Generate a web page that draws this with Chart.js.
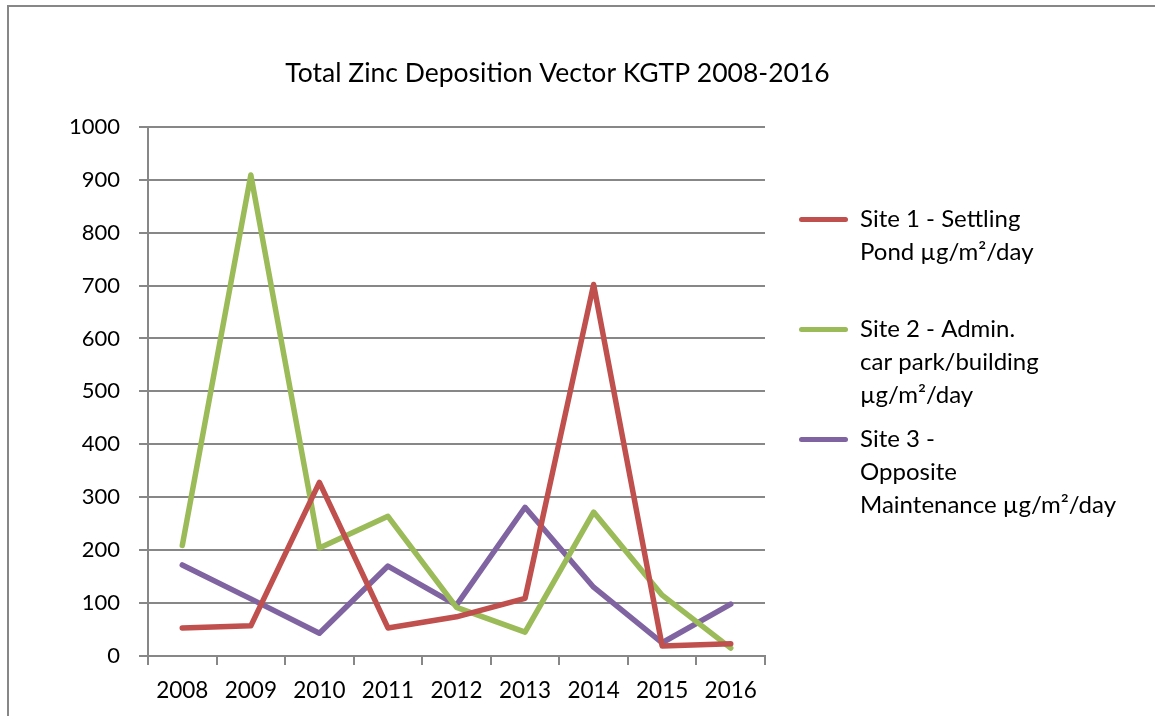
<!DOCTYPE html>
<html lang="en">
<head>
    <meta charset="UTF-8">
    <title>Total Zinc Deposition Vector KGTP 2008-2016</title>
    <script src="https://cdn.jsdelivr.net/npm/chart.js"></script>
    <style>
        body { margin: 0; overflow: hidden; background: #fff; }
        #frame { position: absolute; left: 7px; top: 5px; width: 2000px; height: 2000px;
                 border-left: 2px solid #878787; border-top: 2px solid #878787; }
        #chart_zinc { position: absolute; left: -40px; top: 0; }
    </style>
</head>
<body>
    <div id="frame"></div>
    <canvas id="chart_zinc" width="1195" height="716"></canvas>

    <script>
        // años
        var years = ['2008', '2009', '2010', '2011', '2012', '2013', '2014', '2015', '2016'];

        // µg/m²/day
        var site1 = [53, 57, 328, 53, 74, 109, 702, 19, 23];
        var site2 = [209, 909, 204, 264, 92, 45, 272, 115, 15];
        var site3 = [172, 108, 43, 170, 96, 281, 130, 25, 98];

        var site1Label = ['Site 1 - Settling', 'Pond µg/m²/day', ''];
        var site2Label = ['Site 2 - Admin.', 'car park/building', 'µg/m²/day'];
        var site3Label = ['Site 3 -', 'Opposite', 'Maintenance µg/m²/day'];

        var fuente = 'Lato, "Liberation Sans", sans-serif';
        var gris = '#878787';

        Chart.defaults.color = '#000';
        Chart.defaults.font.family = fuente;
        Chart.defaults.font.size = 22;

        var linea = function (label, data, color) {
            return {
                label: label,
                data: data,
                borderColor: color,
                backgroundColor: color,
                borderWidth: 5.5,
                borderCapStyle: 'round',
                borderJoinStyle: 'round',
                pointRadius: 0,
                tension: 0,
                fill: false
            };
        };

        // la leyenda no mide bien los textos de varias lineas: ancho fijo
        var anchoLeyenda = {
            id: 'anchoLeyenda',
            afterInit: function (chart) {
                var lg = chart.legend;
                var fit0 = lg.fit;
                lg.fit = function () {
                    fit0.call(this);
                    this.width = 352;
                };
            }
        };

        var ctx_zinc = document.getElementById('chart_zinc').getContext('2d');
        var chart_zinc = new Chart(ctx_zinc, {
            type: 'line',
            data: {
                labels: years,
                datasets: [
                    linea(site1Label, site1, '#C0504D'),
                    linea(site2Label, site2, '#9BBB59'),
                    linea(site3Label, site3, '#8064A2')
                ]
            },
            plugins: [anchoLeyenda],
            options: {
                responsive: false,
                animation: false,
                layout: {
                    padding: { left: 15, right: 15, top: 0, bottom: 0 }
                },
                plugins: {
                    tooltip: { enabled: false },
                    title: {
                        display: true,
                        text: 'Total Zinc Deposition Vector KGTP 2008-2016',
                        font: { size: 26.5, weight: 'normal' },
                        color: '#000',
                        padding: { top: 58, bottom: 37 }
                    },
                    legend: {
                        position: 'right',
                        align: 'center',
                        title: { display: true, text: ' ', font: { size: 10 }, padding: 3 },
                        labels: {
                            boxWidth: 49,
                            boxHeight: 5,
                            useBorderRadius: true,
                            borderRadius: 2.5,
                            padding: 11,
                            font: { size: 24, lineHeight: '33px' },
                            generateLabels: function (chart) {
                                var items = Chart.defaults.plugins.legend.labels.generateLabels(chart);
                                items.forEach(function (it) { it.lineWidth = 0; });
                                return items;
                            }
                        }
                    }
                },
                scales: {
                    x: {
                        offset: true,
                        grid: { offset: true, drawOnChartArea: false, tickLength: 9, color: gris, lineWidth: 2 },
                        border: { color: gris, width: 2 },
                        ticks: { padding: 12, font: { size: 22.5 } }
                    },
                    y: {
                        min: 0,
                        max: 1000,
                        ticks: {
                            stepSize: 100,
                            padding: 19,
                            callback: function (v) { return String(v); }
                        },
                        grid: { tickLength: 9, color: gris, lineWidth: 2 },
                        border: { color: gris, width: 2 },
                        afterFit: function (s) { s.width = 173; }
                    },
                    // espacio entre el area del grafico y la leyenda
                    pad: {
                        position: 'right',
                        display: true,
                        grid: { display: false },
                        ticks: { display: false },
                        border: { display: false },
                        afterFit: function (s) { s.width = 23; }
                    }
                }
            }
        });
    </script>
</body>
</html>
